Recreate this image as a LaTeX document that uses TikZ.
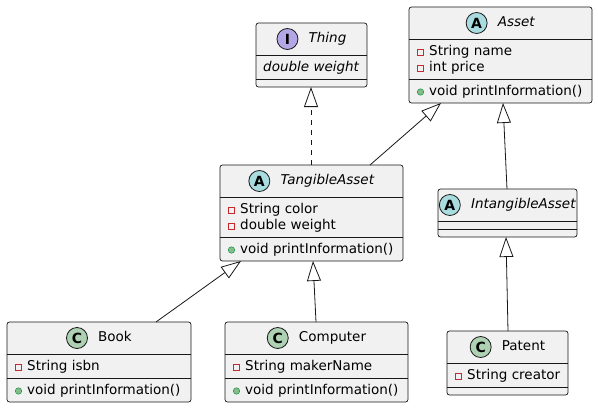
\documentclass[tikz,border=0pt]{standalone}
\usepackage{fontspec}
\setmainfont{DejaVu Sans}
\usetikzlibrary{arrows.meta,calc}
\definecolor{boxfill}{HTML}{F1F1F1}
\definecolor{boxline}{HTML}{181818}
\definecolor{absA}{HTML}{A9DCDF}
\definecolor{clsC}{HTML}{ADD1B2}
\definecolor{ifcI}{HTML}{B4A7E5}
\definecolor{privred}{HTML}{C82930}
\definecolor{pubgreen}{HTML}{84BE84}
\definecolor{pubgreenline}{HTML}{038048}
\tikzset{
  umlbox/.style={draw=boxline, fill=boxfill, line width=0.7pt, rounded corners=2.5pt, inner sep=0pt, outer sep=0pt, anchor=north west},
  sepline/.style={draw=boxline, line width=0.5pt},
  membertext/.style={anchor=west, inner sep=0pt, font=\fontsize{13.5}{16}\selectfont, text height=9.8pt, text depth=2.9pt},
  titletext/.style={inner sep=0pt, font=\fontsize{13.5}{16}\selectfont, text height=9.8pt, text depth=2.9pt},
  badge/.style={circle, draw=boxline, line width=0.8pt, minimum size=21pt, inner sep=0pt, font=\bfseries\fontsize{14}{14}\selectfont},
  privsq/.style={rectangle, draw=privred, line width=0.8pt, minimum width=6pt, minimum height=6pt, inner sep=0pt},
  pubdot/.style={circle, draw=pubgreenline, fill=pubgreen, line width=0.4pt, minimum size=6.5pt, inner sep=0pt},
  inherit/.style={draw=boxline, line width=0.8pt, -{Triangle[open, length=20pt, width=14pt]}},
  realize/.style={inherit, dash pattern=on 5pt off 5pt},
}
% name, x1, y1, x2, y2, sep1, sep2
\newcommand\ClassBox[7]{%
  \node[umlbox, minimum width={#4-#2}, minimum height={#5-#3}] (#1) at (#2,#3) {};
  \draw[sepline] (#2,#6) -- (#4,#6);
  \draw[sepline] (#2,#7) -- (#4,#7);
}
% name, centre x, centre y, letter, colour, title
\newcommand\ClassHead[6]{%
  \node[titletext] (#1t) at (#2+16,#3) {#6};
  \node[badge, fill=#5] (#1b) at ($(#1t.west)+(-21,0)$) {#4};
}
% name, box left x, y, text
\newcommand\PrivAttr[4]{%
  \node[privsq] (#1m) at (#2+11.5,#3) {};
  \node[membertext] (#1) at (#2+20,#3) {#4};
}
\newcommand\PubMeth[4]{%
  \node[pubdot] (#1m) at (#2+11.5,#3) {};
  \node[membertext] (#1) at (#2+20,#3) {#4};
}
\begin{document}
\begin{tikzpicture}[x=1pt,y=-1pt]
\fill[white] (0,0) rectangle (598,408);
\useasboundingbox (0,0) rectangle (598,408);

% Thing
\ClassBox{thing}{256}{23}{367}{87}{55}{79}
\ClassHead{thing}{311.5}{39}{I}{ifcI}{\textit{Thing}}
\node[membertext] (thinga) at (263,68) {\textit{double weight}};

% Asset
\ClassBox{asset}{409}{7}{592}{103}{39}{79}
\ClassHead{asset}{500.5}{23}{A}{absA}{\textit{Asset}}
\PrivAttr{asseta}{409}{52}{String name}
\PrivAttr{assetb}{409}{68}{int price}
\PubMeth{assetc}{409}{92}{void printInformation()}

% TangibleAsset
\ClassBox{tangible}{220}{165}{403}{261}{197}{237}
\ClassHead{tangible}{311.5}{181}{A}{absA}{\textit{TangibleAsset}}
\PrivAttr{tangiblea}{220}{210}{String color}
\PrivAttr{tangibleb}{220}{226}{double weight}
\PubMeth{tangiblec}{220}{250}{void printInformation()}

% IntangibleAsset
\ClassBox{intangible}{438}{189}{577}{237}{221}{229}
\ClassHead{intangible}{507.5}{205}{A}{absA}{\textit{IntangibleAsset}}

% Book
\ClassBox{book}{7}{322}{191}{402}{354}{378}
\ClassHead{book}{99}{338}{C}{clsC}{Book}
\PrivAttr{booka}{7}{367}{String isbn}
\PubMeth{bookb}{7}{391}{void printInformation()}

% Computer
\ClassBox{computer}{225}{322}{408}{402}{354}{378}
\ClassHead{computer}{316.5}{338}{C}{clsC}{Computer}
\PrivAttr{computera}{225}{367}{String makerName}
\PubMeth{computerb}{225}{391}{void printInformation()}

% Patent
\ClassBox{patent}{447}{331}{568}{395}{363}{387}
\ClassHead{patent}{507.5}{347}{C}{clsC}{Patent}
\PrivAttr{patenta}{447}{376}{String creator}

% connectors
\draw[realize] ($(tangible.north west)+(91,0)$) -- ($(thing.south west)+(55,0)$);
\draw[inherit] ($(tangible.north west)+(150,0)$) -- ($(asset.south west)+(32,0)$);
\draw[inherit] ($(intangible.north west)+(69,0)$) -- ($(asset.south west)+(94,0)$);
\draw[inherit] ($(book.north west)+(149,0)$) -- ($(tangible.south west)+(21,0)$);
\draw[inherit] ($(computer.north west)+(91,0)$) -- ($(tangible.south west)+(93,0)$);
\draw[inherit] ($(patent.north west)+(61,0)$) -- ($(intangible.south west)+(68,0)$);
\end{tikzpicture}
\end{document}
